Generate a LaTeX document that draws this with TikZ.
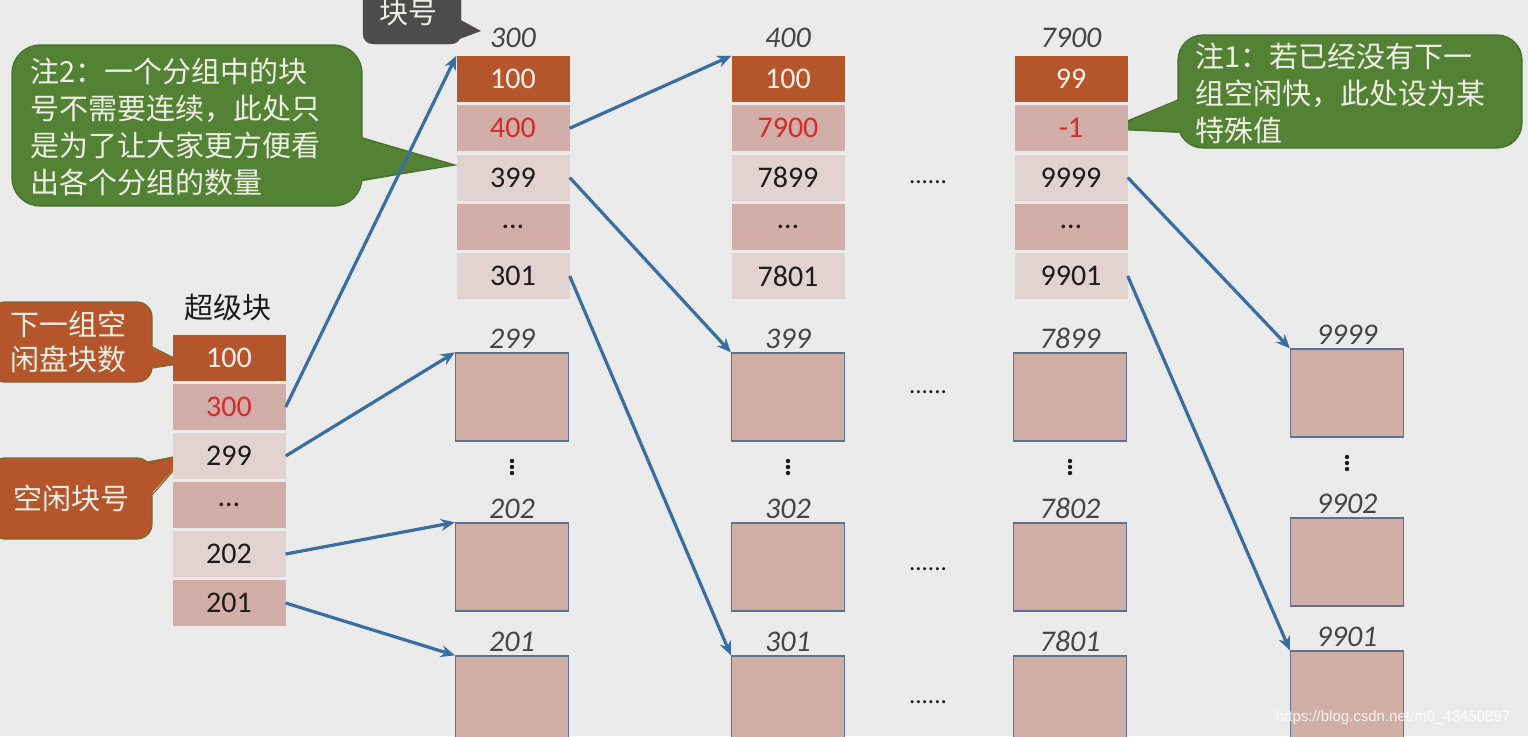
\documentclass[tikz,border=0pt]{standalone}
\usepackage{fontspec}
\setmainfont{Carlito}
\newfontfamily\cjk{Noto Sans CJK SC}
\newfontfamily\wmfont{Liberation Sans}
\usetikzlibrary{arrows.meta}
\definecolor{bgc}{HTML}{EBEBEB}
\definecolor{cellor}{HTML}{B5552B}
\definecolor{celldk}{HTML}{D3ADA7}
\definecolor{cellpl}{HTML}{E3D3D0}
\definecolor{numred}{HTML}{D42B2B}
\definecolor{celltxt}{HTML}{1C1C1C}
\definecolor{headtxt}{HTML}{FAF0EA}
\definecolor{blkfill}{HTML}{D1AFA6}
\definecolor{blkline}{HTML}{5B7390}
\definecolor{lblgrey}{HTML}{454545}
\definecolor{linkblue}{HTML}{3A6EA3}
\definecolor{notegreen}{HTML}{548235}
\definecolor{noteline}{HTML}{466F2C}
\definecolor{noteorline}{HTML}{7A6A2A}
\definecolor{notedark}{HTML}{4E4B4B}
\definecolor{notetxt}{HTML}{EFEFE6}
\tikzset{
	cell/.style={rectangle, inner sep=0pt, minimum width=113pt, minimum height=46pt, font=\fontsize{30}{34}\selectfont},
	headcell/.style={fill=cellor, text=headtxt},
	darkcell/.style={fill=celldk, text=celltxt},
	palecell/.style={fill=cellpl, text=celltxt},
	redcell/.style={fill=celldk, text=numred},
	blk/.style={rectangle, draw=blkline, fill=blkfill, line width=1.3pt, minimum width=113pt, minimum height=88pt, inner sep=0pt},
	lbl/.style={font=\fontsize{30}{34}\selectfont\itshape, text=lblgrey},
	link/.style={draw=linkblue, line width=3.2pt, -{Stealth[length=14pt, width=12pt]}},
	note/.style={font=\cjk\fontsize{29}{37}\selectfont, text=notetxt, align=left, inner sep=0pt},
	more/.style={font=\fontsize{25}{30}\selectfont, text=celltxt},
}
\begin{document}
\begin{tikzpicture}[x=1pt, y=-1pt]
		\useasboundingbox (0,0) rectangle (1528,736);
		\clip (0,0) rectangle (1528,736);
		\fill [bgc] (0,0) rectangle (1528,736);
		% 注释框
		\draw [fill=notedark, draw=notedark, rounded corners=10pt] (363,-20) rectangle (461,44);
		\fill [notedark] (457,18) -- (481,31) -- (457,40) -- cycle;
		\node [note] (tagno) at (408,13) {块号};
		\draw [fill=notegreen, draw=noteline, line width=1.2pt, rounded corners=28pt] (12,45) rectangle (362,206);
		\fill [notegreen] (358,136) -- (455,165) -- (358,182) -- cycle;
		\draw [noteline, line width=1.2pt] (362,138) -- (455,165) -- (362,180);
		\node [note, anchor=west] (note2) at (30,127) {注2：一个分组中的块\\号不需要连续，此处只\\是为了让大家更方便看\\出各个分组的数量};
		\draw [fill=notegreen, draw=noteline, line width=1.2pt, rounded corners=25pt] (1178,35) rectangle (1522,148);
		\fill [notegreen] (1182,99) -- (1108,129) -- (1182,133) -- cycle;
		\draw [noteline, line width=1.2pt] (1178,100) -- (1108,129) -- (1178,132);
		\node [note, anchor=west] (note1) at (1195,93) {注1：若已经没有下一\\组空闲快，此处设为某\\特殊值};
		\draw [fill=cellor, draw=noteorline, line width=1.2pt, rounded corners=15pt] (-10,302) rectangle (152,382);
		\fill [cellor] (148,346) -- (184,363) -- (148,369) -- cycle;
		\draw [noteorline, line width=1.2pt] (152,347) -- (184,363) -- (152,368);
		\node [note, anchor=west, font=\cjk\fontsize{29}{35}\selectfont] (tagnum) at (10,342) {下一组空\\闲盘块数};
		\draw [fill=cellor, draw=noteorline, line width=1.2pt, rounded corners=15pt] (-10,458) rectangle (152,539);
		\fill [cellor] (144,462) -- (188,454) -- (148,497) -- cycle;
		\draw [noteorline, line width=1.2pt] (147.6,462.4) -- (188,454) -- (152,495);
		\node [note] (tagfree) at (71,498) {空闲块号};
		% 超级块
		\node [font=\cjk\fontsize{29}{34}\selectfont, text=celltxt] (sbtitle) at (228,307) {超级块};
		\foreach \t/\s [count=\i] in {100/headcell, 300/redcell, 299/palecell, …/darkcell, 202/palecell, 201/darkcell}
			\node [cell, \s] (s\i) at (229, {358+49*(\i-1)}) {\t};
		% 各组的第一块
		\node [lbl] (la) at (513,38) {300};
		\foreach \t/\s [count=\i] in {100/headcell, 400/redcell, 399/palecell, …/darkcell, 301/palecell}
			\node [cell, \s] (ga\i) at (513, {79+49.25*(\i-1)}) {\t};
		\node [lbl] (lb) at (788,38) {400};
		\foreach \t/\s [count=\i] in {100/headcell, 7900/redcell, 7899/palecell, …/darkcell, 7801/palecell}
			\node [cell, \s] (gb\i) at (788, {79+49.25*(\i-1)}) {\t};
		\node [lbl] (lc) at (1071,38) {7900};
		\foreach \t/\s [count=\i] in {99/headcell, -1/redcell, 9999/palecell, …/darkcell, 9901/palecell}
			\node [cell, \s] (gc\i) at (1071, {79+49.25*(\i-1)}) {\t};
		% 空闲块
		\foreach \x/\a/\b/\c in {512/299/202/201, 788/399/302/301, 1070/7899/7802/7801} {
			\node [blk, label={[lbl]above:\a}] (b\a) at (\x,397) {};
			\node [blk, label={[lbl]above:\b}] (b\b) at (\x,567) {};
			\node [blk, label={[lbl]above:\c}] (b\c) at (\x,700) {};
			\foreach \k in {-6,0,6}
				\fill [celltxt] (\x,467+\k) circle [radius=2.2];
		}
		\node [blk, label={[lbl]above:9999}] (b9999) at (1347,393) {};
		\node [blk, label={[lbl]above:9902}] (b9902) at (1347,562) {};
		\node [blk, label={[lbl]above:9901}] (b9901) at (1347,695) {};
		\foreach \k in {-6,0,6}
			\fill [celltxt] (1347,463+\k) circle [radius=2.2];
		% 省略号
		\node [more] (m1) at (928,182) {......};
		\node [more] (m2) at (928,392) {......};
		\node [more] (m3) at (928,569) {......};
		\node [more] (m4) at (928,702) {......};
		% 箭头
		\draw [link] (s2.east) -- (ga1.north west);
		\draw [link] (s3.east) -- (b299.north west);
		\draw [link] (s5.east) -- (b202.north west);
		\draw [link] (s6.east) -- (b201.north west);
		\draw [link] (ga2.east) -- (gb1.north west);
		\draw [link] (ga3.east) -- (b399.north west);
		\draw [link] (ga5.east) -- (b301.north west);
		\draw [link] (gc3.east) -- (b9999.north west);
		\draw [link] (gc5.east) -- (b9901.north west);
		\node [font=\wmfont\fontsize{15}{18}\selectfont, text=white, opacity=0.85] (wm) at (1393,718) {https://blog.csdn.net/m0\_43450897};
	\end{tikzpicture}
\end{document}
